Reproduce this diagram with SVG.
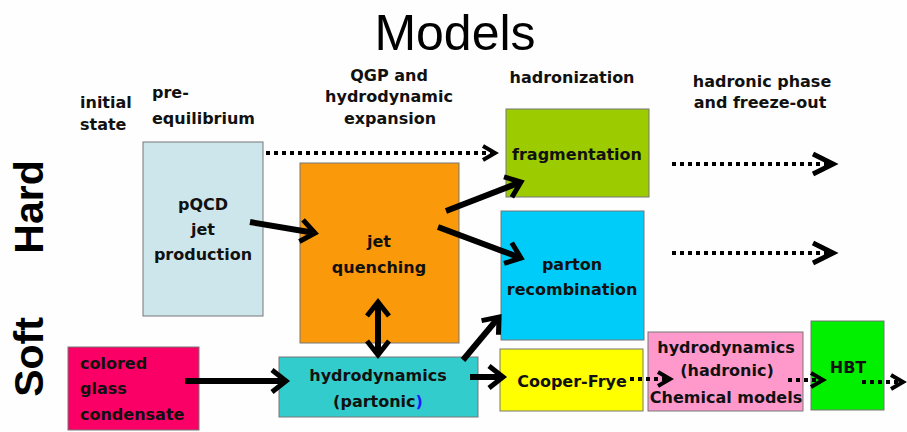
<svg xmlns="http://www.w3.org/2000/svg" width="907" height="432" viewBox="0 0 907 432">
<defs>
<style>
.t{font-family:"DejaVu Sans","Liberation Sans",sans-serif;font-weight:bold;font-size:16px;fill:#111;}
.c{text-anchor:middle;}
.box{stroke:#777;stroke-width:1;}
.side{font-family:"Liberation Sans",Arial,sans-serif;font-weight:bold;font-size:41px;fill:#000;text-anchor:middle;}
.solid{fill:none;stroke:#000;stroke-width:6;}
.dot{fill:none;stroke:#000;stroke-width:4;stroke-dasharray:4 4;}
</style>
<marker id="chev" markerUnits="userSpaceOnUse" viewBox="-20 -14 24 28" refX="0" refY="0" markerWidth="24" markerHeight="28" orient="auto-start-reverse" overflow="visible">
<path d="M-14,-11 L0,0 L-14,11" fill="none" stroke="#000" stroke-width="5" stroke-dasharray="none"/>
</marker>
<marker id="chevBig" markerUnits="userSpaceOnUse" viewBox="-26 -14 30 28" refX="0" refY="0" markerWidth="30" markerHeight="28" orient="auto" overflow="visible">
<path d="M-20,-10 L0,0 L-20,10" fill="none" stroke="#000" stroke-width="5" stroke-dasharray="none"/>
</marker>
<marker id="chevSm" markerUnits="userSpaceOnUse" viewBox="-16 -12 20 24" refX="0" refY="0" markerWidth="20" markerHeight="24" orient="auto" overflow="visible">
<path d="M-12,-7 L0,0 L-12,7" fill="none" stroke="#000" stroke-width="4" stroke-dasharray="none"/>
</marker>
</defs>
<rect x="0" y="0" width="907" height="432" fill="#fdfefd"/>

<text x="455" y="50" font-family="Liberation Sans, Arial, sans-serif" font-size="50" text-anchor="middle" fill="#000">Models</text>

<text class="side" transform="translate(43,207) rotate(-90)">Hard</text>
<text class="side" transform="translate(43,357) rotate(-90)">Soft</text>

<g id="stage-labels">
<text class="t" x="80" y="108">initial</text>
<text class="t" x="80" y="130">state</text>
<text class="t" x="152" y="98">pre-</text>
<text class="t" x="152" y="124">equilibrium</text>
<text class="t c" x="389" y="81">QGP and</text>
<text class="t c" x="389" y="102">hydrodynamic</text>
<text class="t c" x="390" y="124">expansion</text>
<text class="t c" x="572" y="83">hadronization</text>
<text class="t c" x="762" y="87">hadronic phase</text>
<text class="t c" x="760" y="108">and freeze-out</text>
</g>

<g id="pqcd">
<rect class="box" x="143" y="142" width="120" height="174" fill="#cde6ec"/>
<text class="t c" x="203" y="210">pQCD</text>
<text class="t c" x="203" y="235">jet</text>
<text class="t c" x="203" y="260">production</text>
</g>

<g id="jet-quenching">
<rect class="box" x="300" y="163" width="159" height="180" fill="#fa9a0a"/>
<text class="t c" x="379" y="247">jet</text>
<text class="t c" x="379" y="273">quenching</text>
</g>

<g id="fragmentation">
<rect class="box" x="506" y="109" width="143" height="88" fill="#9ccc00"/>
<text class="t c" x="577" y="160">fragmentation</text>
</g>

<g id="parton-recombination">
<rect class="box" x="501" y="211" width="143" height="129" fill="#00ccfa"/>
<text class="t c" x="572" y="270">parton</text>
<text class="t c" x="572" y="295">recombination</text>
</g>

<g id="cgc">
<rect class="box" x="68" y="347" width="131" height="83" fill="#fa0066"/>
<text class="t" x="80" y="369">colored</text>
<text class="t" x="80" y="394">glass</text>
<text class="t" x="80" y="420">condensate</text>
</g>

<g id="hydro-partonic">
<rect class="box" x="279" y="357" width="199" height="60" fill="#33cccc"/>
<text class="t c" x="378" y="381">hydrodynamics</text>
<text class="t c" x="378" y="407">(partonic<tspan fill="#1a1aff">)</tspan></text>
</g>

<g id="cooper-frye">
<rect class="box" x="500" y="349" width="143" height="62" fill="#ffff00"/>
<text class="t c" x="572" y="387">Cooper-Frye</text>
</g>

<g id="hydro-hadronic">
<rect class="box" x="648" y="332" width="155" height="79" fill="#ff99cc"/>
<text class="t c" x="726" y="353">hydrodynamics</text>
<text class="t c" x="727" y="376">(hadronic)</text>
<text class="t c" x="726" y="403">Chemical models</text>
</g>

<g id="hbt">
<rect class="box" x="811" y="321" width="73" height="89" fill="#00f000"/>
<text class="t c" x="848" y="373">HBT</text>
</g>

<g id="connectors">
<line class="dot" x1="266" y1="153" x2="495" y2="153" marker-end="url(#chevSm)"/>
<line class="solid" x1="250" y1="222" x2="315" y2="233" marker-end="url(#chev)"/>
<line class="solid" x1="446" y1="211" x2="521" y2="182" marker-end="url(#chev)"/>
<line class="solid" x1="438" y1="227" x2="521" y2="258" marker-end="url(#chev)"/>
<line class="solid" x1="378" y1="302" x2="378" y2="355" marker-start="url(#chev)" marker-end="url(#chev)"/>
<line class="solid" x1="185" y1="381" x2="286" y2="381" marker-end="url(#chev)"/>
<line class="solid" x1="463" y1="360" x2="499" y2="317" marker-end="url(#chev)"/>
<line class="solid" x1="470" y1="377" x2="503" y2="377" marker-end="url(#chev)"/>
<line class="dot" x1="630" y1="379" x2="670" y2="379" marker-end="url(#chevSm)"/>
<line class="dot" x1="788" y1="380" x2="823" y2="380" marker-end="url(#chevSm)"/>
<line class="dot" x1="862" y1="382" x2="903" y2="382" marker-end="url(#chevSm)"/>
<line class="dot" x1="672" y1="164" x2="833" y2="164" marker-end="url(#chevBig)"/>
<line class="dot" x1="672" y1="253" x2="833" y2="253" marker-end="url(#chevBig)"/>
</g>
</svg>
